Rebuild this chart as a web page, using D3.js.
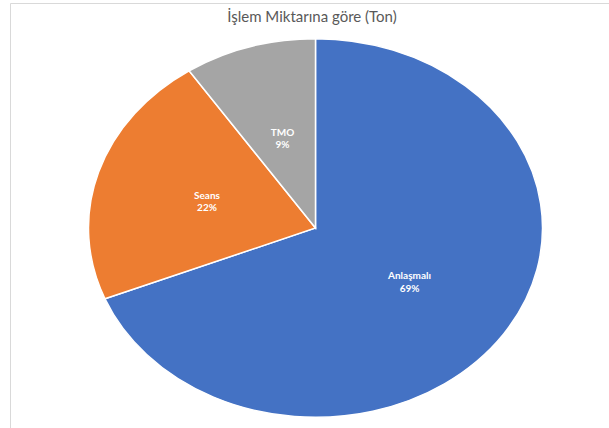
<!DOCTYPE html>
<html>
<head>
<meta charset="utf-8">
<script src="https://cdn.jsdelivr.net/npm/d3@7"></script>
<style>
  html, body { margin: 0; padding: 0; background: #fff; }
  svg { display: block; }
</style>
</head>
<body>
<svg id="chart" width="609" height="428"></svg>
<script>
// Share of traded volume (tons) by transaction type
const categories = ["Anlaşmalı", "Seans", "TMO"];
const values = [68.9, 21.7, 9.4];
const percentLabels = ["69%", "22%", "9%"];
const colors = ["#4472C4", "#ED7D31", "#A5A5A5"];
const title = "İşlem Miktarına göre (Ton)";

const W = 609, H = 428;
const cx = 315.5, cy = 228;
const rx = 227, ry = 189.3;

const svg = d3.select("#chart");

// chart-area frame
svg.append("path")
  .attr("d", `M10.5,${H} V3.5 H${W}`)
  .attr("fill", "none")
  .attr("stroke", "#d9d9d9")
  .attr("stroke-width", 1);

svg.append("text")
  .attr("x", 312)
  .attr("y", 22)
  .attr("text-anchor", "middle")
  .attr("font-family", "Lato, 'Open Sans', sans-serif")
  .attr("font-size", 15)
  .attr("fill", "#595959")
  .text(title);

const data = categories.map((c, i) => ({ name: c, value: values[i], label: percentLabels[i], color: colors[i] }));

const pie = d3.pie().value(d => d.value).sort(null);
const arcs = pie(data);
const arc = d3.arc().innerRadius(0).outerRadius(rx);

// pie is drawn as a circle, then squashed vertically into an ellipse
const g = svg.append("g")
  .attr("transform", `translate(${cx},${cy}) scale(1,${ry / rx})`);

g.selectAll("path.slice")
  .data(arcs)
  .enter().append("path")
  .attr("class", "slice")
  .attr("d", arc)
  .attr("fill", d => d.data.color)
  .attr("stroke", "#fff")
  .attr("stroke-width", 1.5)
  .attr("vector-effect", "non-scaling-stroke");

const labels = svg.append("g")
  .attr("font-family", "Lato, 'Open Sans', sans-serif")
  .attr("font-size", 10)
  .attr("font-weight", "bold")
  .attr("fill", "#fff")
  .attr("text-anchor", "middle");

arcs.forEach(d => {
  const [x, y] = arc.centroid(d);
  const px = cx + x;
  const py = cy + y * (ry / rx);
  const t = labels.append("text").attr("x", px).attr("y", py);
  t.append("tspan").attr("x", px).attr("dy", "-0.15em").text(d.data.name);
  t.append("tspan").attr("x", px).attr("dy", "1.25em").text(d.data.label);
});
</script>
</body>
</html>
